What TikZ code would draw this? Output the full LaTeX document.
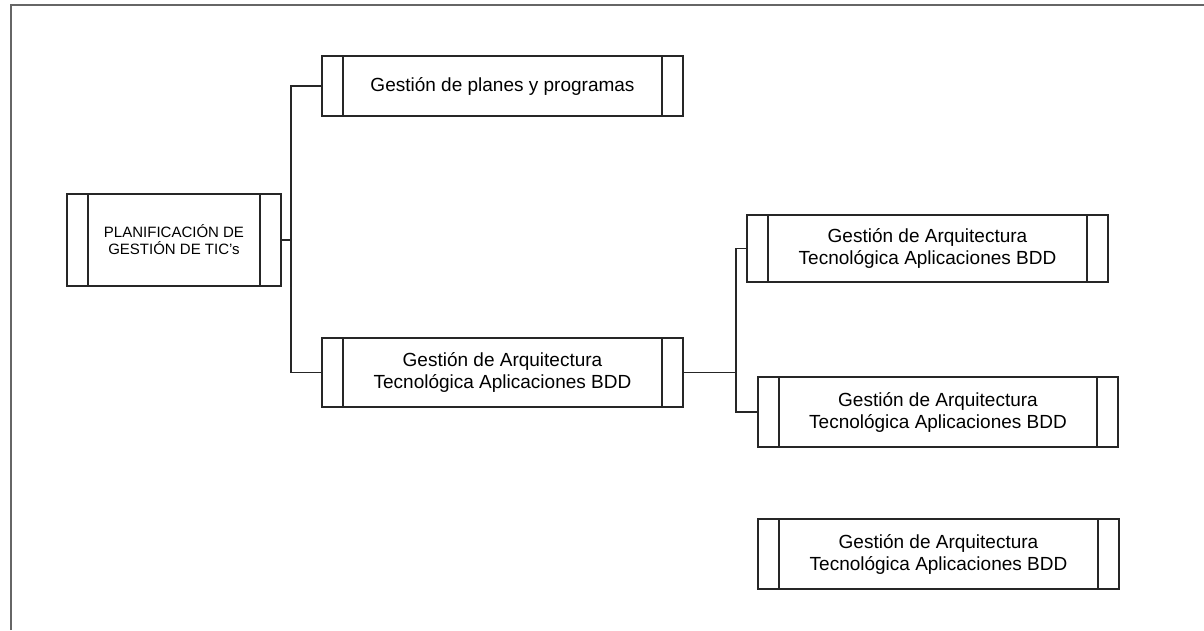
\documentclass[tikz,border=0pt]{standalone}
\usepackage{fontspec}
\setmainfont{Liberation Sans}
\usepackage{tikz}

\begin{document}
\begin{tikzpicture}[x=1pt, y=-1pt,
    tbox/.style={draw=black!85, line width=1.4pt, rectangle, align=center,
        inner sep=0pt, font=\fontsize{19}{22}\selectfont,
        path picture={
            \draw[line width=1.4pt, black!85]
                ([xshift=21pt]path picture bounding box.north west) -- ([xshift=21pt]path picture bounding box.south west)
                ([xshift=-21pt]path picture bounding box.north east) -- ([xshift=-21pt]path picture bounding box.south east);
        }},
    link/.style={line width=1.6pt, black!85}]
    \useasboundingbox (0,0) rectangle (1204,630);

    % Frame
    \draw[line width=2pt, black!60] (11,630) -- (11,5) -- (1204,5);

    % Root
    \node[tbox, minimum width=214pt, minimum height=92pt, font=\fontsize{15}{17}\selectfont] (plan) at (174,240) {PLANIFICACI\'ON DE\\GESTI\'ON DE TIC's};

    % First level
    \node[tbox, minimum width=361pt, minimum height=60pt] (planes) at (502.5,86) {Gesti\'on de planes y programas};
    \node[tbox, minimum width=361pt, minimum height=69pt] (arq) at (502.5,372.5) {Gesti\'on de Arquitectura\\Tecnol\'ogica Aplicaciones BDD};

    % Second level
    \node[tbox, minimum width=361pt, minimum height=67pt] (arqA) at (927.5,248.5) {Gesti\'on de Arquitectura\\Tecnol\'ogica Aplicaciones BDD};
    \node[tbox, minimum width=360pt, minimum height=70pt] (arqB) at (938,412) {Gesti\'on de Arquitectura\\Tecnol\'ogica Aplicaciones BDD};
    \node[tbox, minimum width=361pt, minimum height=70pt] (arqC) at (938.5,554) {Gesti\'on de Arquitectura\\Tecnol\'ogica Aplicaciones BDD};

    % Connectors
    \coordinate (bus1) at (291,240);
    \coordinate (bus2) at (736,372.5);
    \draw[link] (plan.east) -- (bus1);
    \draw[link] (planes.west) -| (bus1) |- (arq.west);
    \draw[link] (arq.east) -- (bus2);
    \draw[link] (arqA.west) -| (bus2) |- (arqB.west);
\end{tikzpicture}
\end{document}
